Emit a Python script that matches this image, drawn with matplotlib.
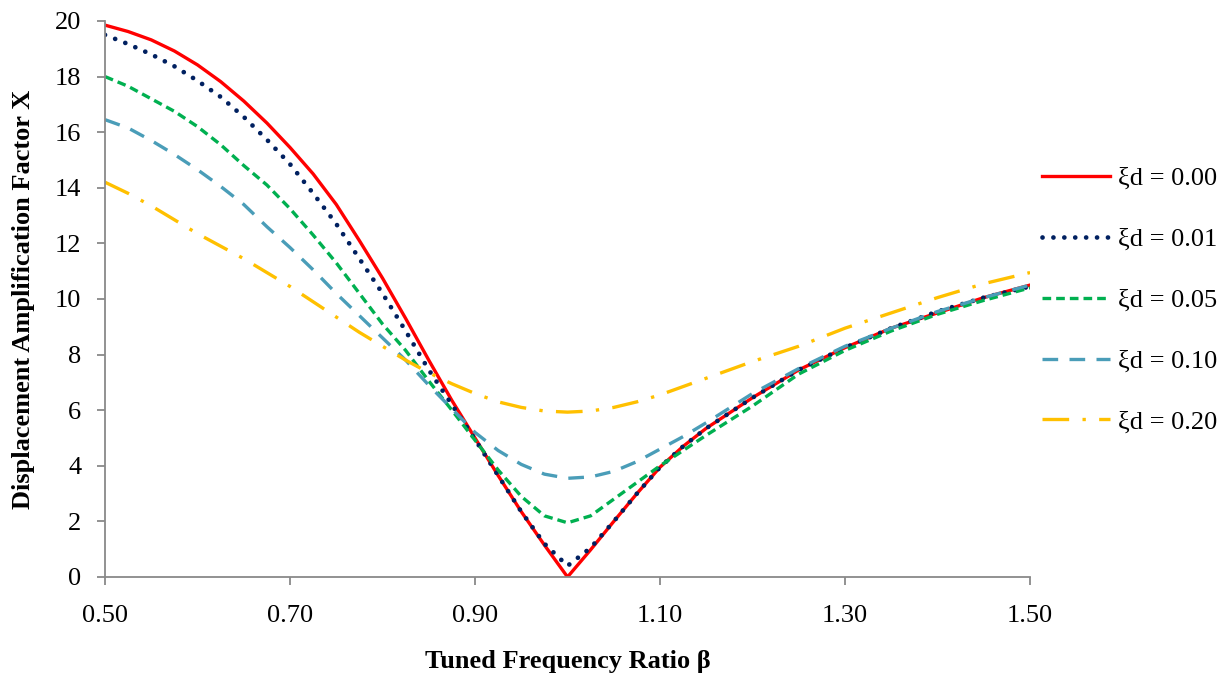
import matplotlib
matplotlib.use('Agg')
import matplotlib.pyplot as plt

# tuned frequency ratio (shared x values)
beta = [0.500, 0.525, 0.550, 0.575, 0.600, 0.625, 0.650, 0.675, 0.700,
        0.725, 0.750, 0.775, 0.800, 0.825, 0.850, 0.875, 0.900, 0.925,
        0.950, 0.975, 1.000, 1.025, 1.050, 1.075, 1.100, 1.125, 1.150,
        1.20, 1.25, 1.30, 1.35, 1.40, 1.45, 1.50]

# displacement amplification factor for each damping ratio
x_000 = [19.85, 19.62, 19.32, 18.92, 18.42, 17.82, 17.12, 16.33, 15.45,
         14.5, 13.4, 12.1, 10.75, 9.3, 7.8, 6.35, 5.0, 3.65,
         2.35, 1.15, 0.0, 0.98, 2.0, 3.0, 3.95, 4.7, 5.35,
         6.45, 7.45, 8.25, 8.95, 9.5, 10.05, 10.5]
x_001 = [19.5, 19.17, 18.8, 18.37, 17.85, 17.27, 16.55, 15.73, 14.85,
         13.8, 12.7, 11.45, 10.2, 8.85, 7.45, 6.2, 4.95, 3.65,
         2.35, 1.2, 0.4, 1.05, 2.0, 3.0, 3.95, 4.7, 5.35,
         6.45, 7.45, 8.25, 8.95, 9.55, 10.05, 10.45]
x_005 = [18.0, 17.65, 17.2, 16.75, 16.2, 15.55, 14.8, 14.1, 13.25,
         12.3, 11.3, 10.2, 9.1, 8.15, 7.05, 6.0, 4.92, 3.85,
         2.9, 2.2, 1.95, 2.2, 2.8, 3.4, 4.0, 4.55, 5.1,
         6.15, 7.3, 8.15, 8.85, 9.45, 9.95, 10.4]
x_010 = [16.45, 16.15, 15.7, 15.2, 14.65, 14.05, 13.4, 12.6, 11.85,
         11.05, 10.2, 9.4, 8.6, 7.8, 6.9, 6.05, 5.2, 4.55,
         4.05, 3.7, 3.55, 3.6, 3.8, 4.15, 4.6, 5.05, 5.55,
         6.6, 7.5, 8.3, 8.95, 9.55, 10.05, 10.5]
x_020 = [14.2, 13.8, 13.35, 12.85, 12.35, 11.9, 11.45, 10.95, 10.45,
         9.9, 9.35, 8.8, 8.3, 7.8, 7.35, 6.95, 6.6, 6.3,
         6.1, 5.97, 5.93, 5.97, 6.1, 6.3, 6.55, 6.85, 7.15,
         7.75, 8.3, 8.95, 9.5, 10.05, 10.55, 10.95]

labels = ['ξd = 0.00', 'ξd = 0.01', 'ξd = 0.05', 'ξd = 0.10', 'ξd = 0.20']

plt.rcParams['font.family'] = ['Liberation Serif', 'DejaVu Serif']

fig = plt.figure(figsize=(12.28, 6.83), dpi=100)
ax = fig.add_axes([0.0855, 0.1552, 0.7533, 0.8141])

ax.plot(beta, x_000, color='#FF0000', lw=2.4, solid_joinstyle='round', label=labels[0])
ax.plot(beta, x_001, color='#002060', lw=3.4, linestyle=(0, (0.01, 2.3)),
        dash_capstyle='round', label=labels[1])
ax.plot(beta, x_005, color='#00B050', lw=2.4, linestyle=(0, (2.6, 1.5)), label=labels[2])
ax.plot(beta, x_010, color='#4A9DB8', lw=2.4, linestyle=(0, (4.7, 3.4)), label=labels[3])
ax.plot(beta, x_020, color='#FFC000', lw=2.4, linestyle=(0, (8, 4, 1, 4)),
        label=labels[4])

ax.set_xlim(0.5, 1.5)
ax.set_ylim(0, 20)
ax.set_xticks([0.5, 0.7, 0.9, 1.1, 1.3, 1.5])
ax.set_xticklabels(['0.50', '0.70', '0.90', '1.10', '1.30', '1.50'])
ax.set_yticks(range(0, 21, 2))

for side in ['top', 'right']:
    ax.spines[side].set_visible(False)
for side in ['left', 'bottom']:
    ax.spines[side].set_color('#898989')
    ax.spines[side].set_linewidth(1.3)
ax.tick_params(axis='both', colors='#898989', labelcolor='black', length=6,
               width=1.3, labelsize=19)
ax.tick_params(axis='x', pad=14)
ax.tick_params(axis='y', pad=11)

ax.set_xlabel('Tuned Frequency Ratio β', fontsize=19, fontweight='bold', labelpad=17)
ax.set_ylabel('Displacement Amplification Factor X', fontsize=19, fontweight='bold',
              labelpad=14)

ax.legend(loc='center left', bbox_to_anchor=(0.987, 0.498), frameon=False,
          fontsize=19, handlelength=2.6, handletextpad=0.27, labelspacing=1.42)

fig.savefig('out.png', dpi=100, facecolor='white')
